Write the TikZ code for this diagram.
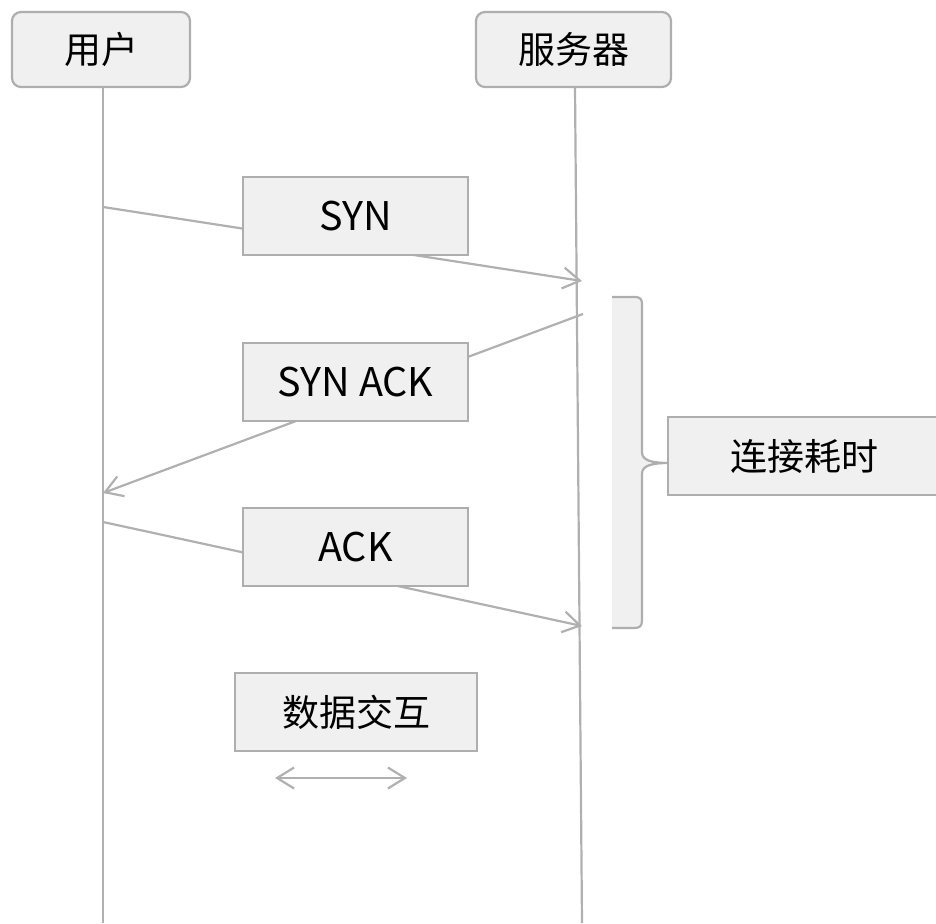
\documentclass[tikz,border=0pt]{standalone}
\usepackage{fontspec}
\setmainfont{Noto Sans CJK SC}
\usetikzlibrary{arrows.meta}
\definecolor{lin}{HTML}{B0B0B0}
\definecolor{bord}{HTML}{AEAEAE}
\definecolor{boxfill}{HTML}{F0F0F0}
\pgfdeclarelayer{bg}
\pgfsetlayers{bg,main}
\tikzset{
  msgbox/.style={draw=bord, fill=boxfill, line width=2.2pt, inner sep=0pt,
    minimum height=78pt, font=\fontsize{37pt}{40pt}\selectfont, text=black},
  latbox/.style={msgbox, font=\fontsize{39.5pt}{42pt}\selectfont},
  actor/.style={msgbox, rounded corners=9pt, minimum height=75pt},
  life/.style={draw=lin, line width=2.2pt},
  barb/.style={Straight Barb[length=17pt, width=21pt, line width=2.2pt]},
  msg/.style={draw=lin, line width=2.2pt, -{Straight Barb[length=17pt, width=21pt, line width=2.2pt]}},
  dmsg/.style={draw=lin, line width=2.2pt, {Straight Barb[length=17pt, width=21pt, line width=2.2pt]}-{Straight Barb[length=17pt, width=21pt, line width=2.2pt]}},
}
\begin{document}
\begin{tikzpicture}[x=1pt, y=-1pt]
\useasboundingbox (0,0) rectangle (936,923);
% actors
\node[actor, minimum width=178pt] (user) at (101,49.5) {用户};
\node[actor, minimum width=195pt] (server) at (573.5,49.5) {服务器};
% message boxes
\node[latbox, minimum width=225pt] (syn) at (355.5,216) {SYN};
\node[latbox, minimum width=225pt] (synack) at (355.5,382) {SYN ACK};
\node[latbox, minimum width=225pt] (ack) at (355.5,547) {ACK};
\node[msgbox, minimum width=242pt] (data) at (356,712) {数据交互};
\node[msgbox, minimum width=272pt] (conn) at (804,456) {连接耗时};
% coordinates
\coordinate (u0) at (103,87);
\coordinate (u1) at (103,923);
\coordinate (s0) at (575,87);
\coordinate (s1) at (582,923);
\coordinate (a1) at (103,207);
\coordinate (a2) at (582,281);
\coordinate (b1) at (583,314);
\coordinate (b2) at (103,493);
\coordinate (c1) at (103,522);
\coordinate (c2) at (582,626);
\coordinate (d1) at (275,778);
\coordinate (d2) at (407,778);
\coordinate (tip) at (670,463);
\begin{pgfonlayer}{bg}
\draw[life] (u0) -- (u1);
\draw[life] (s0) -- (s1);
\draw[msg] (a1) -- (a2);
\draw[msg] (b1) -- (b2);
\draw[msg] (c1) -- (c2);
\draw[dmsg] (d1) -- (d2);
% brace
\fill[boxfill] (612,297) -- (634,297) .. controls (642,297) and (642,300) .. (642,306)
  -- (642,452) .. controls (642,460) and (650,463) .. (tip)
  .. controls (650,463) and (642,466) .. (642,474)
  -- (642,620) .. controls (642,626) and (640,628) .. (634,628) -- (612,628) -- cycle;
\draw[bord, line width=2.2pt] (612,297) -- (634,297) .. controls (642,297) and (642,300) .. (642,306)
  -- (642,452) .. controls (642,460) and (650,463) .. (tip)
  .. controls (650,463) and (642,466) .. (642,474)
  -- (642,620) .. controls (642,626) and (640,628) .. (634,628) -- (612,628);
\end{pgfonlayer}
\end{tikzpicture}
\end{document}
